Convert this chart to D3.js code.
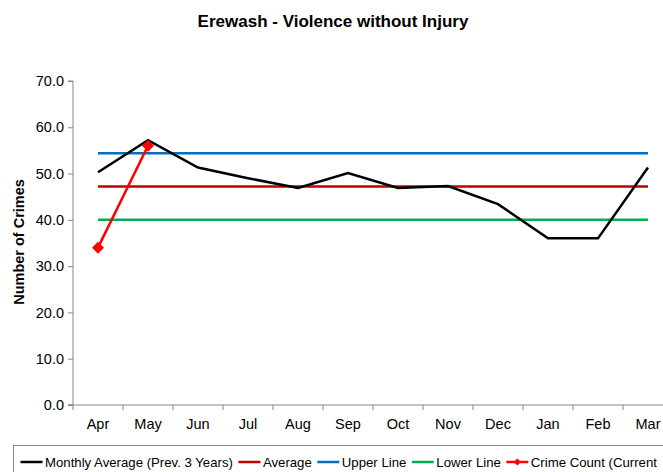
<!DOCTYPE html>
<html>
<head>
<meta charset="utf-8">
<script src="https://cdn.jsdelivr.net/npm/d3@7"></script>
<style>
  html, body { margin: 0; padding: 0; background: #fff; }
  svg { display: block; font-family: "Liberation Sans", Arial, sans-serif; }
</style>
</head>
<body>
<svg id="chart" width="663" height="472"></svg>
<script>
// Months of the financial year
const months = ["Apr", "May", "Jun", "Jul", "Aug", "Sep", "Oct", "Nov", "Dec", "Jan", "Feb", "Mar"];
// Monthly average over the previous three years
const monthlyAverage = [50.3, 57.2, 51.3, 49.0, 46.9, 50.1, 46.9, 47.3, 43.4, 36.0, 36.0, 51.3];
// Control lines
const averageLine = 47.2;
const upperLine = 54.4;
const lowerLine = 40.0;
// Crime count for the current year (only months recorded so far)
const crimeCount = [34.0, 56.0];
// Y axis ticks
const yTicks = [0, 10, 20, 30, 40, 50, 60, 70];
// Legend labels
const legendLabels = ["Monthly Average (Prev. 3 Years)", "Average", "Upper Line", "Lower Line", "Crime Count (Current"];

const svg = d3.select("#chart");
const W = 663;
const left = 73;

const x = d3.scaleBand().domain(months).range([left, left + 600]).padding(0);
const y = d3.scaleLinear().domain([0, 70]).range([405, 81]);
const cx = m => x(m) + x.bandwidth() / 2;

// Title
svg.append("text")
  .attr("x", 333).attr("y", 27)
  .attr("text-anchor", "middle")
  .attr("font-weight", "bold")
  .attr("font-size", 17)
  .text("Erewash - Violence without Injury");

// Y axis
const yAxis = svg.append("g")
  .attr("transform", `translate(${left},0)`)
  .call(d3.axisLeft(y).tickValues(yTicks).tickFormat(d3.format(".1f")).tickSize(5).tickPadding(4));
yAxis.selectAll("text").attr("font-size", 14.5).attr("fill", "#000").attr("font-family", "Liberation Sans, Arial, sans-serif");
yAxis.selectAll("line").attr("stroke", "#868686");
yAxis.select(".domain").attr("stroke", "#868686").attr("d", `M-5,${y(0)}H0V${y(70)}H-5`);

// X axis with ticks on category boundaries
const xg = svg.append("g").attr("transform", `translate(0,${y(0)})`);
xg.append("line")
  .attr("x1", left - 5).attr("x2", W + 10)
  .attr("stroke", "#868686");
xg.selectAll("line.tick")
  .data(months.concat(["__end"]))
  .join("line")
  .attr("class", "tick")
  .attr("x1", (d, i) => left + i * x.bandwidth())
  .attr("x2", (d, i) => left + i * x.bandwidth())
  .attr("y1", 0).attr("y2", 5)
  .attr("stroke", "#868686");
xg.selectAll("text")
  .data(months)
  .join("text")
  .attr("x", d => cx(d))
  .attr("y", 24)
  .attr("text-anchor", "middle")
  .attr("font-size", 14.5)
  .text(d => d);

// Y axis title
svg.append("text")
  .attr("transform", `translate(24,242) rotate(-90)`)
  .attr("text-anchor", "middle")
  .attr("font-weight", "bold")
  .attr("font-size", 14.5)
  .text("Number of Crimes");

// Horizontal control lines spanning first to last month
const hline = (v, color) => svg.append("line")
  .attr("x1", cx(months[0])).attr("x2", cx(months[months.length - 1]))
  .attr("y1", y(v)).attr("y2", y(v))
  .attr("stroke", color).attr("stroke-width", 2.5);

hline(lowerLine, "#00B050");
hline(upperLine, "#0070C0");
hline(averageLine, "#C00000");

// Monthly average line
const line = d3.line().x((d, i) => cx(months[i])).y(d => y(d));
svg.append("path")
  .datum(monthlyAverage)
  .attr("d", line)
  .attr("fill", "none")
  .attr("stroke", "#000")
  .attr("stroke-width", 2.5);

// Crime count line with diamond markers
svg.append("path")
  .datum(crimeCount)
  .attr("d", line)
  .attr("fill", "none")
  .attr("stroke", "#FF0000")
  .attr("stroke-width", 2.5);

const diamond = d3.symbol().type(d3.symbolSquare).size(72);
svg.selectAll("path.marker")
  .data(crimeCount)
  .join("path")
  .attr("class", "marker")
  .attr("d", diamond)
  .attr("transform", (d, i) => `translate(${cx(months[i])},${y(d)}) rotate(45)`)
  .attr("fill", "#FF0000");

// Legend
const legend = svg.append("g");
legend.append("rect")
  .attr("x", 13.5).attr("y", 445.5)
  .attr("width", 700).attr("height", 60)
  .attr("fill", "#fff")
  .attr("stroke", "#868686");

const legendColors = ["#000", "#C00000", "#0070C0", "#00B050", "#FF0000"];
let lx = 20.5;
const ly = 462;
legendLabels.forEach((label, i) => {
  legend.append("line")
    .attr("x1", lx).attr("x2", lx + 22)
    .attr("y1", ly).attr("y2", ly)
    .attr("stroke", legendColors[i]).attr("stroke-width", 2.5);
  if (i === legendLabels.length - 1) {
    legend.append("path")
      .attr("d", d3.symbol().type(d3.symbolSquare).size(26))
      .attr("transform", `translate(${lx + 11},${ly}) rotate(45)`)
      .attr("fill", legendColors[i]);
  }
  const t = legend.append("text")
    .attr("x", lx + 24.5).attr("y", ly + 5)
    .attr("font-size", 13.2)
    .text(label);
  lx += 24.5 + t.node().getComputedTextLength() + 5.5;
});
</script>
</body>
</html>
